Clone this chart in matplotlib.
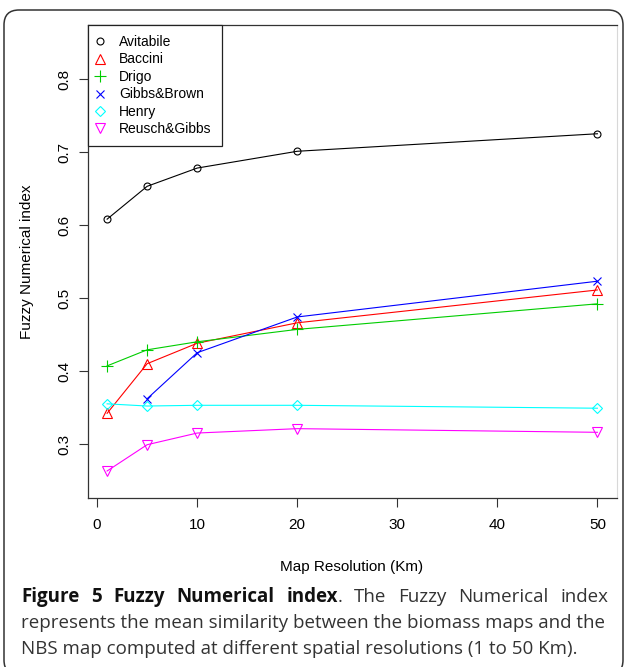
import numpy as np
import matplotlib.pyplot as plt
import matplotlib.patches as mpatches
import matplotlib.transforms as mtransforms

# map resolutions (Km)
resolution = [1, 5, 10, 20, 50]
resolution_gibbs = [5, 10, 20, 50]

avitabile = [0.608, 0.653, 0.678, 0.701, 0.725]
baccini = [0.342, 0.410, 0.438, 0.466, 0.511]
drigo = [0.407, 0.429, 0.440, 0.457, 0.492]
gibbs_brown = [0.362, 0.425, 0.474, 0.523]
henry = [0.355, 0.352, 0.353, 0.353, 0.349]
reusch_gibbs = [0.263, 0.299, 0.315, 0.321, 0.316]

x_ticks = [0, 10, 20, 30, 40, 50]
y_ticks = [0.3, 0.4, 0.5, 0.6, 0.7, 0.8]

W, H = 624, 667
fig = plt.figure(figsize=(W / 100, H / 100), dpi=100)
plt.rcParams['font.family'] = ['Liberation Sans', 'DejaVu Sans']

# axes box in pixels (left, top, right, bottom)
ax_l, ax_t, ax_r, ax_b = 87.5, 25, 617, 498
ax = fig.add_axes([ax_l / W, 1 - ax_b / H, (ax_r - ax_l) / W, (ax_b - ax_t) / H])

series = [
    (resolution, avitabile, "Avitabile", "black", "o", 5),
    (resolution, baccini, "Baccini", "#FF0000", "^", 7.5),
    (resolution, drigo, "Drigo", "#00CD00", "+", 8),
    (resolution_gibbs, gibbs_brown, "Gibbs&Brown", "#0000FF", "x", 6),
    (resolution, henry, "Henry", "#00FFFF", "D", 5.2),
    (resolution, reusch_gibbs, "Reusch&Gibbs", "#FF00FF", "v", 7.5),
]
for xs, ys, name, col, mk, ms in series:
    ax.plot(xs, ys, color=col, lw=0.8, marker=mk, ms=ms, mfc="none",
            mec=col, mew=0.8, label=name)

ax.set_xlim(-0.96, 51.96)
ax.set_ylim(0.226, 0.874)
ax.set_xticks(x_ticks)
ax.set_yticks(y_ticks)
ax.set_yticklabels([f"{v:.1f}" for v in y_ticks], rotation=90, va="center")
ax.tick_params(labelsize=11, length=6.5, width=0.8, color="#333333")
ax.tick_params(axis="x", pad=8)
ax.tick_params(axis="y", pad=5)
for s in ["left", "bottom", "top"]:
    ax.spines[s].set_color("#333333")
    ax.spines[s].set_linewidth(0.9)
ax.spines["right"].set_color("#d8d8d8")

leg = ax.legend(loc="upper left", bbox_to_anchor=(0, 1), borderaxespad=0,
                fontsize=10, frameon=True, fancybox=False, edgecolor="#222222",
                framealpha=1, handlelength=0.4, handletextpad=1.15,
                borderpad=0.72, labelspacing=0.25)
leg.get_frame().set_linewidth(0.9)
for line in leg.get_lines():
    line.set_linestyle("none")

fig.text(352 / W, 1 - 567 / H, "Map Resolution (Km)", fontsize=11,
         ha="center", va="center")
fig.text(27 / W, 1 - 262 / H, "Fuzzy Numerical index", fontsize=11,
         rotation=90, ha="center", va="center")

# outer rounded frame
frame = mpatches.FancyBboxPatch((4, -8), 619, 657 + 8, boxstyle="round,pad=0,rounding_size=15",
                                transform=mtransforms.IdentityTransform(),
                                fill=False, edgecolor="#333333", lw=1.1)
fig.patches.append(frame)

# caption
cap_font = ['Open Sans', 'DejaVu Sans']
cap_size = 13.5
cap_left = 21
renderer = fig.canvas.get_renderer()

line1 = [("Figure", "bold", True), ("5", "bold", True), ("Fuzzy", "bold", True),
         ("Numerical", "bold", True), ("index", "bold", True), (".", "normal", False),
         ("The", "normal", True), ("Fuzzy", "normal", True), ("Numerical", "normal", True),
         ("index", "normal", True)]
texts = []
for word, wt, gap in line1:
    t = fig.text(0, 1 - 597 / H, word, fontsize=cap_size, fontweight=wt,
                 family=cap_font, color="#333333" if wt == "normal" else "#111111",
                 ha="left", va="center")
    texts.append(t)
widths = [t.get_window_extent(renderer).width for t in texts]
n_gaps = sum(1 for _, _, g in line1[1:] if g)
gap_px = (608 - cap_left - sum(widths)) / n_gaps
x = cap_left
for i, (t, w) in enumerate(zip(texts, widths)):
    if i > 0 and line1[i][2]:
        x += gap_px
    t.set_x(x / W)
    x += w

fig.text(cap_left / W, 1 - 623 / H,
         "represents the mean similarity between the biomass maps and the",
         fontsize=cap_size, family=cap_font, color="#333333", ha="left", va="center")
fig.text(cap_left / W, 1 - 649 / H,
         "NBS map computed at different spatial resolutions (1 to 50 Km).",
         fontsize=cap_size, family=cap_font, color="#333333", ha="left", va="center")

fig.savefig("out.png", dpi=100)
